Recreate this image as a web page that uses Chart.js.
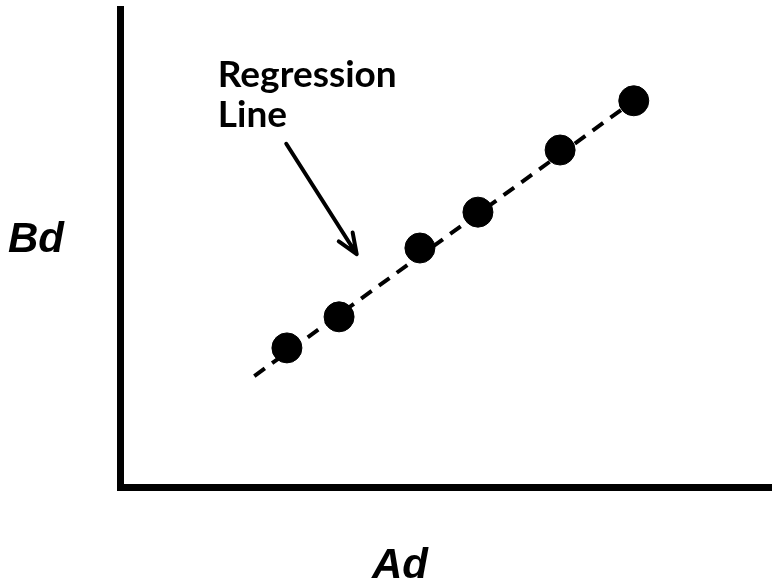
<!DOCTYPE html>
<html>
<head>
<meta charset="utf-8">
<script src="https://cdn.jsdelivr.net/npm/chart.js@4/dist/chart.umd.min.js"></script>
<style>
  html, body { margin: 0; padding: 0; background: #fff; }
  #wrap { width: 772px; height: 583px; }
</style>
</head>
<body>
<div id="wrap"><canvas id="chart" width="772" height="583"></canvas></div>
<script>
// observed points (Ad on x, Bd on y)
const adValues = [25.6, 33.6, 46.0, 54.9, 67.5, 78.8];
const bdValues = [29.1, 35.6, 50.0, 57.5, 70.5, 80.8];

// regression line ends
const fitAd = [20.6, 78.8];
const fitBd = [23.2, 80.8];

// annotation arrow, tail -> tip
const arrowAd = [25.5, 36.3];
const arrowBd = [71.8, 48.7];

const labelLines = ["Regression", "Line"];
const xTitle = "Ad";
const yTitle = "Bd";

const annotate = {
  id: "annotate",
  afterDatasetsDraw(chart) {
    const { ctx, chartArea } = chart;
    const x = chart.scales.x, y = chart.scales.y;
    ctx.save();

    // arrow
    const x0 = x.getPixelForValue(arrowAd[0]), y0 = y.getPixelForValue(arrowBd[0]);
    const x1 = x.getPixelForValue(arrowAd[1]), y1 = y.getPixelForValue(arrowBd[1]);
    ctx.strokeStyle = "#000";
    ctx.lineWidth = 4;
    ctx.lineCap = "round";
    ctx.beginPath();
    ctx.moveTo(x0, y0);
    ctx.lineTo(x1, y1);
    const back = Math.atan2(y0 - y1, x0 - x1);
    const spread = 22 * Math.PI / 180;
    [back - spread, back + spread].forEach(a => {
      ctx.moveTo(x1, y1);
      ctx.lineTo(x1 + 22 * Math.cos(a), y1 + 22 * Math.sin(a));
    });
    ctx.stroke();

    // label
    ctx.fillStyle = "#000";
    ctx.textAlign = "left";
    ctx.textBaseline = "alphabetic";
    ctx.font = "bold 37px Lato";
    const lx = x.getPixelForValue(15.0);
    ctx.fillText(labelLines[0], lx, y.getPixelForValue(83.7));
    ctx.fillText(labelLines[1], lx, y.getPixelForValue(75.3));

    // axis titles
    ctx.font = "italic bold 42px 'Liberation Sans'";
    ctx.fillText(yTitle, chartArea.left - 112, 252);
    ctx.textAlign = "center";
    ctx.fillText(xTitle, 400, 578);
    ctx.restore();
  }
};

const noPad = s => {
  s.paddingLeft = 0; s.paddingRight = 0;
  s.paddingTop = 0; s.paddingBottom = 0;
};

new Chart(document.getElementById("chart"), {
  type: "scatter",
  data: {
    datasets: [
      {
        data: adValues.map((v, i) => ({ x: v, y: bdValues[i] })),
        backgroundColor: "#000",
        borderColor: "#000",
        pointRadius: 15,
        pointHoverRadius: 15
      },
      {
        data: fitAd.map((v, i) => ({ x: v, y: fitBd[i] })),
        showLine: true,
        borderColor: "#000",
        borderWidth: 4,
        borderDash: [13, 9],
        pointRadius: 0
      }
    ]
  },
  options: {
    responsive: false,
    animation: false,
    layout: { autoPadding: false, padding: { left: 120, top: 9, right: 0, bottom: 96 } },
    plugins: { legend: { display: false }, tooltip: { enabled: false } },
    scales: {
      x: {
        min: 0, max: 100,
        ticks: { display: false },
        grid: { display: false },
        border: { display: true, color: "#000", width: 7 },
        afterFit: s => { s.height = 0; noPad(s); }
      },
      y: {
        min: 0, max: 100,
        ticks: { display: false },
        grid: { display: false },
        border: { display: true, color: "#000", width: 7 },
        afterFit: s => { s.width = 0; noPad(s); }
      }
    }
  },
  plugins: [annotate]
});
</script>
</body>
</html>
